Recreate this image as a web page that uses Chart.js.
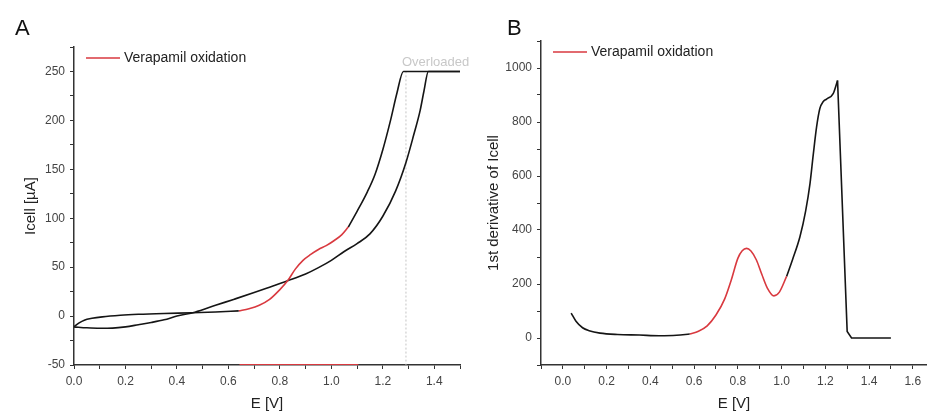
<!DOCTYPE html>
<html>
<head>
<meta charset="utf-8">
<script src="https://cdn.jsdelivr.net/npm/chart.js@4.4.1/dist/chart.umd.min.js"></script>
<style>
body{margin:0;background:#fff;font-family:"Liberation Sans",Arial,sans-serif;}
#wrap{position:relative;width:927px;height:414px;overflow:hidden;}
canvas{position:absolute;top:0;}
#cA{left:0;}
#cB{left:470px;}
.lbl{position:absolute;top:17px;font-size:22px;line-height:1;color:#111;}
</style>
</head>
<body>
<div id="wrap">
<canvas id="cA" width="470" height="414"></canvas>
<canvas id="cB" width="457" height="414"></canvas>
<div class="lbl" style="left:15px">A</div>
<div class="lbl" style="left:507px">B</div>
</div>
<script>
// panel A - cyclic voltammogram, E [V] vs Icell [uA]
var fwdE  = [0, 0.02, 0.04, 0.07, 0.11, 0.18, 0.25, 0.35, 0.46, 0.55, 0.64];
var fwdI  = [-11, -7, -4.2, -2.3, -0.8, 0.8, 1.8, 2.7, 3.4, 4.2, 5.3];
var oxE   = [0.64, 0.68, 0.72, 0.76, 0.80, 0.83, 0.86, 0.89, 0.92, 0.95, 0.98, 1.01, 1.04, 1.066];
var oxI   = [5.3, 7.5, 11, 17, 27, 36, 48, 57, 63, 68, 72, 77, 83, 91];
var fwd2E = [1.066, 1.10, 1.14, 1.17, 1.20, 1.23, 1.255, 1.28, 1.5];
var fwd2I = [91, 107, 127, 145, 170, 200, 228, 250, 250];
var revE  = [0, 0.05, 0.10, 0.15, 0.20, 0.25, 0.30, 0.35, 0.40, 0.47, 0.55, 0.62, 0.70, 0.76, 0.83, 0.90, 0.95, 1.00, 1.05, 1.10, 1.15, 1.20, 1.25, 1.29, 1.32, 1.345, 1.36, 1.377, 1.5];
var revI  = [-11, -12, -12.5, -12.3, -11, -8.8, -6.5, -3.8, 0, 4, 11, 17, 24, 29.5, 36, 43, 49.5, 57, 66, 74, 84, 102, 128, 157, 185, 210, 230, 250, 250];
var rangeE = [0.643, 1.105];
var rangeI = [-50, -50];
var overE = [1.29, 1.29];
var overI = [250, -50];

// panel B - 1st derivative
var d1E = [0.038, 0.06, 0.09, 0.12, 0.17, 0.25, 0.35, 0.44, 0.52, 0.58];
var d1V = [92, 62, 38, 27, 18, 13, 11, 8.5, 10, 15];
var dOxE = [0.58, 0.62, 0.66, 0.70, 0.74, 0.77, 0.80, 0.82, 0.84, 0.86, 0.885, 0.91, 0.935, 0.965, 0.99, 1.023];
var dOxV = [15, 25, 45, 85, 145, 215, 295, 323, 332, 322, 289, 235, 185, 156, 170, 228];
var d2E = [1.023, 1.05, 1.084, 1.11, 1.13, 1.145, 1.16, 1.175, 1.19, 1.206, 1.236, 1.256];
var d2V = [228, 290, 375, 470, 572, 680, 781, 850, 875, 885, 905, 954];
var dropE = [1.256, 1.30, 1.32, 1.5];
var dropV = [954, 24, 0, 0];

var legendText = "Verapamil oxidation";
var overText = "Overloaded";

var RED = "#d9393f", BLACK = "#151515", FONT = '"Liberation Sans", Arial, sans-serif';

function pts(xs, ys){ return xs.map(function(x, i){ return {x: x, y: ys[i]}; }); }
function line(label, xs, ys, color, extra){
  return Object.assign({label: label, data: pts(xs, ys), borderColor: color, backgroundColor: color,
    borderWidth: 1.6, pointRadius: 0, fill: false, cubicInterpolationMode: "monotone"}, extra || {});
}

// legend + "Overloaded" note, drawn on the canvas
var notes = {
  id: "notes",
  afterDatasetsDraw: function(chart, args, opts){
    var ctx = chart.ctx, a = chart.chartArea;
    ctx.save();
    ctx.strokeStyle = RED; ctx.lineWidth = 1.5;
    ctx.beginPath(); ctx.moveTo(a.left + 12, a.top + 11); ctx.lineTo(a.left + 46, a.top + 11); ctx.stroke();
    ctx.fillStyle = "#222"; ctx.font = "14px " + FONT; ctx.textBaseline = "middle";
    ctx.fillText(legendText, a.left + 50, a.top + 11);
    if (opts.over) {
      var x = chart.scales.x.getPixelForValue(overE[0]);
      var y = chart.scales.y.getPixelForValue(overI[0]);
      ctx.fillStyle = "#c8c8c8"; ctx.font = "13px " + FONT;
      ctx.fillText(overText, x - 4, y - 9);
    }
    ctx.restore();
  }
};

function xAxis(min, max){
  return {
    type: "linear", min: min, max: max,
    ticks: {stepSize: 0.1, autoSkip: false, maxRotation: 0, includeBounds: false, padding: 5, color: "#444", font: {family: FONT, size: 12},
      callback: function(v){ return Math.round(v * 10) % 2 === 0 ? v.toFixed(1) : ""; }},
    grid: {drawOnChartArea: false, tickLength: 4, tickColor: "#333"},
    border: {color: "#333", width: 1.5},
    title: {display: true, text: "E [V]", color: "#222", font: {family: FONT, size: 15}, padding: {top: 0, bottom: 1}},
    afterFit: function(s){ s.height = 49; s.paddingLeft = 0; s.paddingRight = 0; }
  };
}
function yAxis(min, max, step, title, width, tpad){
  return {
    min: min, max: max,
    ticks: {stepSize: step, autoSkip: false, padding: 5, color: "#444", font: {family: FONT, size: 12},
      callback: function(v){ return (v % (step * 2) === 0 && v < max && v > min) || v === min && min % (step*2) === 0 ? v : ""; }},
    grid: {drawOnChartArea: false, tickLength: 4, tickColor: "#333"},
    border: {color: "#333", width: 1.5},
    title: {display: true, text: title, color: "#222", font: {family: FONT, size: 15}, padding: {top: tpad, bottom: 0}},
    afterFit: function(s){ s.width = width; s.paddingTop = 0; s.paddingBottom = 0; }
  };
}

function baseOptions(pad, x, y, over){
  return {
    responsive: false, animation: false,
    layout: {padding: pad},
    scales: {x: x, y: y},
    plugins: {legend: {display: false}, tooltip: {enabled: false}, notes: {over: over}}
  };
}

new Chart(document.getElementById("cA"), {
  type: "line",
  data: {datasets: [
    line("forward", fwdE, fwdI, BLACK),
    line(legendText, oxE, oxI, RED),
    line("forward 2", fwd2E, fwd2I, BLACK),
    line("reverse", revE, revI, BLACK),
    line("range", rangeE, rangeI, RED, {borderWidth: 2}),
    line("overload", overE, overI, "#c4c4c4", {borderWidth: 1, borderDash: [2, 2]})
  ]},
  options: baseOptions({top: 47, right: 10, left: 0, bottom: 0}, xAxis(0, 1.5), yAxis(-50, 275, 25, "Icell [µA]", 74, 22), true),
  plugins: [notes]
});

new Chart(document.getElementById("cB"), {
  type: "line",
  data: {datasets: [
    line("d1", d1E, d1V, BLACK),
    line(legendText, dOxE, dOxV, RED),
    line("d2", d2E, d2V, BLACK),
    line("drop", dropE, dropV, BLACK, {cubicInterpolationMode: "default", tension: 0})
  ]},
  options: baseOptions({top: 41, right: 0, left: 0, bottom: 0}, xAxis(-0.1, 1.665), yAxis(-100, 1100, 100, "1st derivative of Icell", 71, 15), false),
  plugins: [notes]
});
</script>
</body>
</html>
